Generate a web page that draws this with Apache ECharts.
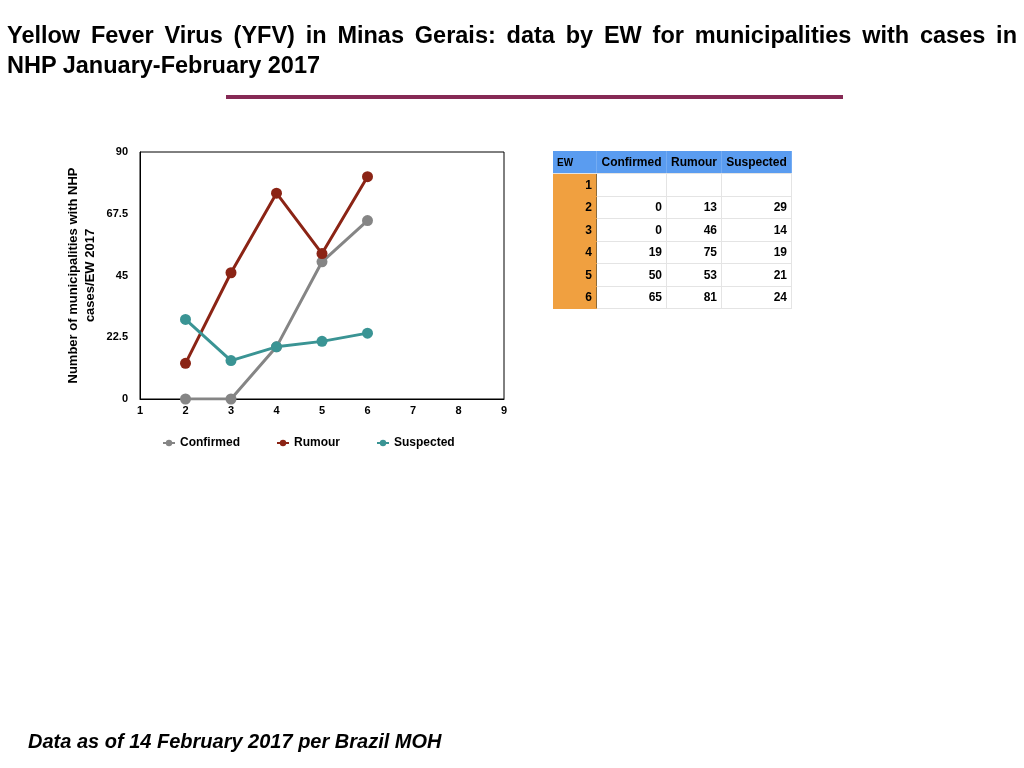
<!DOCTYPE html>
<html>
<head>
<meta charset="utf-8">
<script src="https://cdn.jsdelivr.net/npm/echarts@6/dist/echarts.min.js"></script>
<style>
  html, body { margin: 0; padding: 0; background: #fff; }
  #page { position: relative; width: 1024px; height: 768px; overflow: hidden; font-family: "Liberation Sans", Arial, sans-serif; }
  #chart { position: absolute; left: 0; top: 0; width: 1024px; height: 768px; }
  #title { position: absolute; left: 7px; top: 20px; width: 1010px; font-weight: bold; font-size: 23.5px; line-height: 30px; color: #000; }
  #title .l1 { text-align: justify; text-align-last: justify; }
  #rule { position: absolute; left: 226px; top: 95px; width: 617px; height: 4px; background: #862a55; }
  #foot { position: absolute; left: 28px; top: 730px; font-weight: bold; font-style: italic; font-size: 20px; color: #000; }
  #tbl { position: absolute; left: 553px; top: 151px; border-collapse: collapse; font-weight: bold; font-size: 12px; color: #000; }
  #tbl td, #tbl th { padding: 0 4px; text-align: right; border-bottom: 1px solid #e4e4e4; border-right: 1px solid #e4e4e4; height: 21.5px; }
  #tbl th { background: #5a9cf0; height: 22px; text-align: center; border-right: 1px solid #74acf3; }
  #tbl th.ew { text-align: left; font-size: 10px; }
  #tbl td.ew { background: #f0a040; border-right: 1px solid #8a6a3a; border-bottom: 1px solid #f0a040; }
</style>
</head>
<body>
<div id="page">
  <div id="chart"></div>
  <div id="title"><div class="l1">Yellow Fever Virus (YFV) in Minas Gerais: data by EW for municipalities with cases in</div><div>NHP January-February 2017</div></div>
  <div id="rule"></div>
  <table id="tbl"></table>
  <div id="foot">Data as of 14 February 2017 per Brazil MOH</div>
</div>
<script>
// semanas epidemiologicas (EW)
var weeks = [1, 2, 3, 4, 5, 6];
var confirmed = [null, 0, 0, 19, 50, 65];
var rumour = [null, 13, 46, 75, 53, 81];
var suspected = [null, 29, 14, 19, 21, 24];
var seriesNames = ['Confirmed', 'Rumour', 'Suspected'];
var colors = ['#858585', '#8b2415', '#3a9494'];
var colWidths = [44, 70, 55, 70];

// tabela ao lado do grafico
var tbl = document.getElementById('tbl');
var html = '<tr><th class="ew" style="width:' + (colWidths[0] - 9) + 'px">EW</th>';
for (var i = 0; i < seriesNames.length; i++) {
    html += '<th style="width:' + (colWidths[i + 1] - 9) + 'px">' + seriesNames[i] + '</th>';
}
html += '</tr>';
for (var r = 0; r < weeks.length; r++) {
    var vals = [confirmed[r], rumour[r], suspected[r]];
    html += '<tr><td class="ew">' + weeks[r] + '</td>';
    for (var c = 0; c < vals.length; c++) {
        html += '<td>' + (vals[c] === null ? '' : vals[c]) + '</td>';
    }
    html += '</tr>';
}
tbl.innerHTML = html;

function pairs(arr) {
    var out = [];
    for (var i = 0; i < weeks.length; i++) {
        if (arr[i] !== null) out.push([weeks[i], arr[i]]);
    }
    return out;
}

var myChart = echarts.init(document.getElementById('chart'));

var allData = [confirmed, rumour, suspected];
var series = [];
for (var s = 0; s < seriesNames.length; s++) {
    series.push({
        name: seriesNames[s],
        type: 'line',
        data: pairs(allData[s]),
        symbol: 'circle',
        symbolSize: 11,
        itemStyle: { color: colors[s] },
        lineStyle: { width: 3, color: colors[s] }
    });
}

var option = {
    animation: false,
    textStyle: { fontFamily: 'Liberation Sans, Arial, sans-serif' },
    grid: { left: 140, right: 520, top: 152, bottom: 369 },
    legend: {
        left: 157,
        top: 432,
        itemGap: 36,
        itemWidth: 12,
        itemHeight: 8,
        textStyle: { fontWeight: 'bold', fontSize: 12, color: '#000' },
        data: seriesNames
    },
    xAxis: {
        type: 'value',
        min: 1,
        max: 9,
        interval: 1,
        axisLine: { lineStyle: { color: '#000', width: 1 } },
        axisTick: { show: false },
        splitLine: { show: false },
        axisLabel: { color: '#000', fontWeight: 'bold', fontSize: 11, margin: 6 }
    },
    yAxis: {
        type: 'value',
        min: 0,
        max: 90,
        interval: 22.5,
        name: 'Number of municipalities with NHP\ncases/EW 2017',
        nameLocation: 'middle',
        nameGap: 41,
        nameTextStyle: { color: '#000', fontWeight: 'bold', fontSize: 13, lineHeight: 17 },
        axisLine: { show: true, lineStyle: { color: '#000', width: 1 } },
        axisTick: { show: false },
        splitLine: { show: false },
        axisLabel: { color: '#000', fontWeight: 'bold', fontSize: 11, margin: 12 }
    },
    graphic: [{
        type: 'rect',
        shape: { x: 140, y: 152, width: 364, height: 247 },
        style: { fill: 'none', stroke: '#000', lineWidth: 1 },
        silent: true
    }],
    series: series
};

myChart.setOption(option, true);
</script>
</body>
</html>
